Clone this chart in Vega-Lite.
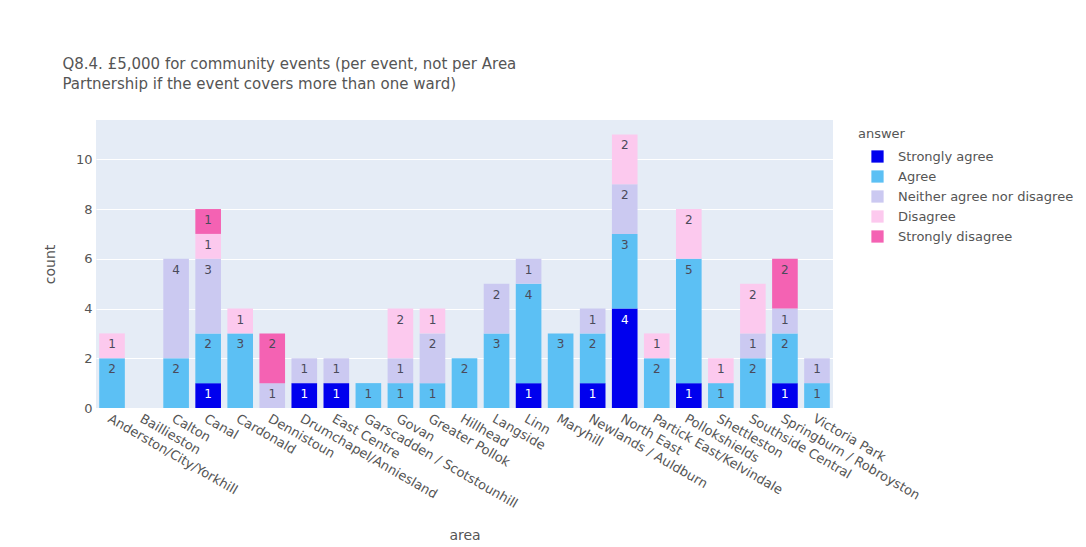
{
  "$schema": "https://vega.github.io/schema/vega-lite/v6.json",
  "width": 737,
  "height": 288,
  "padding": {"left": 43, "top": 57, "right": 5, "bottom": 5},
  "background": "white",
  "title": {
    "text": ["Q8.4. £5,000 for community events (per event, not per Area", "Partnership if the event covers more than one ward)"],
    "anchor": "start",
    "frame": "bounds",
    "dx": 19,
    "fontSize": 15,
    "font": "DejaVu Sans",
    "fontWeight": "normal",
    "color": "#555555",
    "lineHeight": 20,
    "offset": 28
  },
  "data": {
    "values": [
      {"area": "Anderston/City/Yorkhill", "answer": "Agree", "count": 2},
      {"area": "Anderston/City/Yorkhill", "answer": "Disagree", "count": 1},
      {"area": "Calton", "answer": "Agree", "count": 2},
      {"area": "Calton", "answer": "Neither agree nor disagree", "count": 4},
      {"area": "Canal", "answer": "Strongly agree", "count": 1},
      {"area": "Canal", "answer": "Agree", "count": 2},
      {"area": "Canal", "answer": "Neither agree nor disagree", "count": 3},
      {"area": "Canal", "answer": "Disagree", "count": 1},
      {"area": "Canal", "answer": "Strongly disagree", "count": 1},
      {"area": "Cardonald", "answer": "Agree", "count": 3},
      {"area": "Cardonald", "answer": "Disagree", "count": 1},
      {"area": "Dennistoun", "answer": "Neither agree nor disagree", "count": 1},
      {"area": "Dennistoun", "answer": "Strongly disagree", "count": 2},
      {"area": "Drumchapel/Anniesland", "answer": "Strongly agree", "count": 1},
      {"area": "Drumchapel/Anniesland", "answer": "Neither agree nor disagree", "count": 1},
      {"area": "East Centre", "answer": "Strongly agree", "count": 1},
      {"area": "East Centre", "answer": "Neither agree nor disagree", "count": 1},
      {"area": "Garscadden / Scotstounhill", "answer": "Agree", "count": 1},
      {"area": "Govan", "answer": "Agree", "count": 1},
      {"area": "Govan", "answer": "Neither agree nor disagree", "count": 1},
      {"area": "Govan", "answer": "Disagree", "count": 2},
      {"area": "Greater Pollok", "answer": "Agree", "count": 1},
      {"area": "Greater Pollok", "answer": "Neither agree nor disagree", "count": 2},
      {"area": "Greater Pollok", "answer": "Disagree", "count": 1},
      {"area": "Hillhead", "answer": "Agree", "count": 2},
      {"area": "Langside", "answer": "Agree", "count": 3},
      {"area": "Langside", "answer": "Neither agree nor disagree", "count": 2},
      {"area": "Linn", "answer": "Strongly agree", "count": 1},
      {"area": "Linn", "answer": "Agree", "count": 4},
      {"area": "Linn", "answer": "Neither agree nor disagree", "count": 1},
      {"area": "Maryhill", "answer": "Agree", "count": 3},
      {"area": "Newlands / Auldburn", "answer": "Strongly agree", "count": 1},
      {"area": "Newlands / Auldburn", "answer": "Agree", "count": 2},
      {"area": "Newlands / Auldburn", "answer": "Neither agree nor disagree", "count": 1},
      {"area": "North East", "answer": "Strongly agree", "count": 4},
      {"area": "North East", "answer": "Agree", "count": 3},
      {"area": "North East", "answer": "Neither agree nor disagree", "count": 2},
      {"area": "North East", "answer": "Disagree", "count": 2},
      {"area": "Partick East/Kelvindale", "answer": "Agree", "count": 2},
      {"area": "Partick East/Kelvindale", "answer": "Disagree", "count": 1},
      {"area": "Pollokshields", "answer": "Strongly agree", "count": 1},
      {"area": "Pollokshields", "answer": "Agree", "count": 5},
      {"area": "Pollokshields", "answer": "Disagree", "count": 2},
      {"area": "Shettleston", "answer": "Agree", "count": 1},
      {"area": "Shettleston", "answer": "Disagree", "count": 1},
      {"area": "Southside Central", "answer": "Agree", "count": 2},
      {"area": "Southside Central", "answer": "Neither agree nor disagree", "count": 1},
      {"area": "Southside Central", "answer": "Disagree", "count": 2},
      {"area": "Springburn / Robroyston", "answer": "Strongly agree", "count": 1},
      {"area": "Springburn / Robroyston", "answer": "Agree", "count": 2},
      {"area": "Springburn / Robroyston", "answer": "Neither agree nor disagree", "count": 1},
      {"area": "Springburn / Robroyston", "answer": "Strongly disagree", "count": 2},
      {"area": "Victoria Park", "answer": "Agree", "count": 1},
      {"area": "Victoria Park", "answer": "Neither agree nor disagree", "count": 1}
    ]
  },
  "transform": [
    {"calculate": "indexof(['Strongly agree','Agree','Neither agree nor disagree','Disagree','Strongly disagree'], datum.answer)", "as": "rank"}
  ],
  "encoding": {
    "x": {
      "field": "area",
      "type": "nominal",
      "title": "area",
      "scale": {
        "domain": ["Anderston/City/Yorkhill", "Baillieston", "Calton", "Canal", "Cardonald", "Dennistoun", "Drumchapel/Anniesland", "East Centre", "Garscadden / Scotstounhill", "Govan", "Greater Pollok", "Hillhead", "Langside", "Linn", "Maryhill", "Newlands / Auldburn", "North East", "Partick East/Kelvindale", "Pollokshields", "Shettleston", "Southside Central", "Springburn / Robroyston", "Victoria Park"],
        "paddingInner": 0.2,
        "paddingOuter": 0.1
      },
      "axis": {"grid": false, "labelAngle": 30, "labelAlign": "left", "labelBaseline": "top", "labelPadding": 4, "labelLimit": 400, "titlePadding": 18}
    },
    "y": {
      "field": "count",
      "type": "quantitative",
      "stack": "zero",
      "title": "count",
      "scale": {"domain": [0, 11.58], "nice": false},
      "axis": {"values": [0, 2, 4, 6, 8, 10], "grid": true, "gridColor": "white", "gridWidth": 1, "labelPadding": 4, "titlePadding": 18}
    },
    "order": {"field": "rank", "type": "quantitative", "sort": "ascending"}
  },
  "layer": [
    {
      "mark": {"type": "bar"},
      "encoding": {
        "color": {
          "field": "answer",
          "type": "nominal",
          "title": "answer",
          "sort": ["Strongly agree", "Agree", "Neither agree nor disagree", "Disagree", "Strongly disagree"],
          "scale": {
            "domain": ["Strongly agree", "Agree", "Neither agree nor disagree", "Disagree", "Strongly disagree"],
            "range": ["#0000EE", "#5CC0F4", "#CBC9F1", "#FCC9EE", "#F462B3"]
          },
          "legend": {
            "orient": "right",
            "offset": 17,
            "padding": 8,
            "titleFontSize": 13,
            "titleFontWeight": "normal",
            "titleColor": "#555555",
            "titleFont": "DejaVu Sans",
            "titlePadding": 9,
            "labelFontSize": 13,
            "labelFont": "DejaVu Sans",
            "labelColor": "#555555",
            "labelLimit": 300,
            "symbolType": "square",
            "symbolSize": 150,
            "symbolStrokeWidth": 0,
            "symbolOffset": 13,
            "labelOffset": 14,
            "rowPadding": 6
          }
        }
      }
    },
    {
      "mark": {"type": "text", "baseline": "top", "dy": 6, "fontSize": 12, "font": "DejaVu Sans"},
      "encoding": {
        "text": {"field": "count", "type": "quantitative"},
        "detail": {"field": "answer", "type": "nominal"},
        "color": {"condition": {"test": "datum.answer === 'Strongly agree'", "value": "white"}, "value": "#4a4a5a"}
      }
    }
  ],
  "config": {
    "view": {"fill": "#E5ECF6", "stroke": null},
    "axis": {
      "domain": false,
      "ticks": false,
      "labelColor": "#555555",
      "titleColor": "#555555",
      "labelFont": "DejaVu Sans",
      "titleFont": "DejaVu Sans",
      "labelFontSize": 13,
      "titleFontSize": 14,
      "titleFontWeight": "normal"
    }
  }
}
